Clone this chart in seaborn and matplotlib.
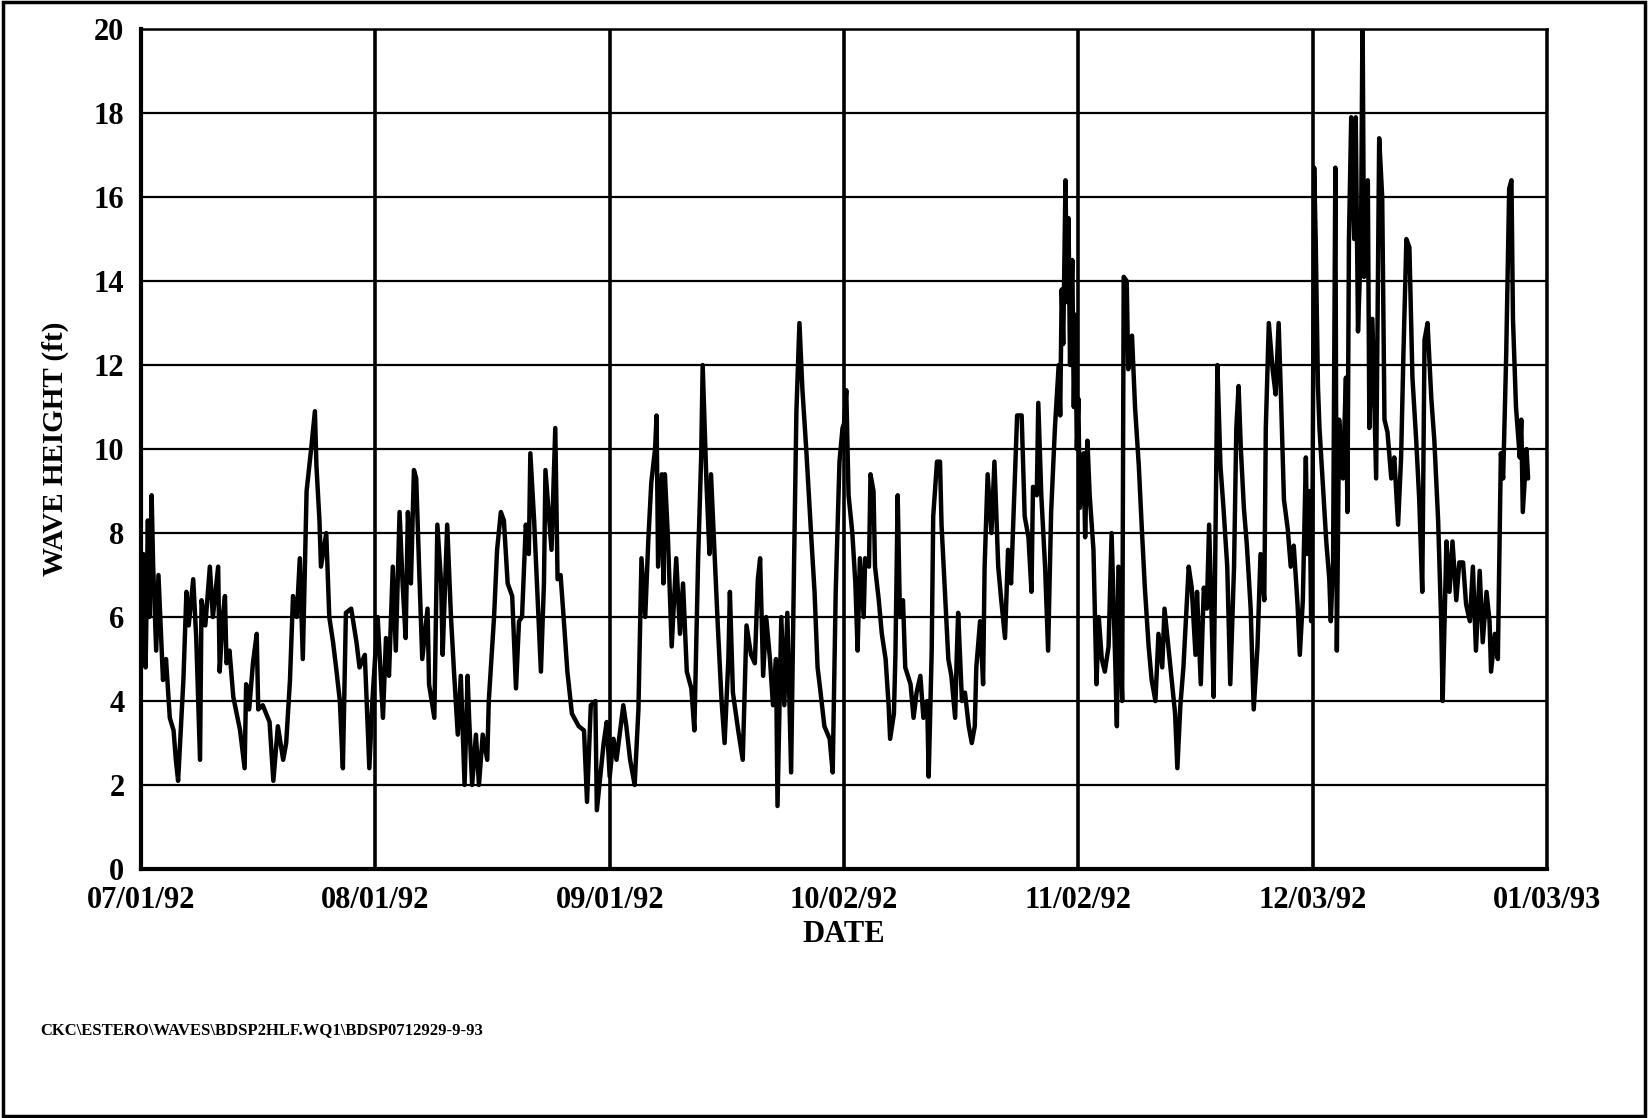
import matplotlib
matplotlib.use('Agg')
import matplotlib.pyplot as plt
import seaborn as sns
from matplotlib.patches import Rectangle

# days after 07/01/92 and wave height (ft)
days = [
    0.0, 0.3, 0.6, 0.9, 1.1, 1.4, 1.6, 2.0, 2.3, 2.9, 3.3, 3.8, 4.3, 4.6, 4.9, 5.3, 5.6, 6.0, 6.3, 6.9,
    7.3, 7.8, 8.0, 8.5, 9.1, 9.5, 10.2, 10.4, 10.8, 11.1, 11.3, 11.7, 12.2, 13.1, 13.7, 13.9, 14.3, 14.8,
    15.3, 15.5, 16.1, 17.0, 17.5, 18.1, 18.8, 19.2, 19.7, 20.1, 20.6, 21.0, 21.4, 21.9, 22.5, 23.0, 23.2,
    23.6, 23.8, 24.5, 24.9, 25.4, 25.8, 26.3, 26.7, 27.1, 27.8, 28.5, 28.9, 29.6, 30.2, 30.6,
    31.3, 32.0, 32.4, 32.8, 33.3, 33.7, 34.2, 34.6, 35.0, 35.3, 35.7, 36.1, 36.4, 36.8, 37.2, 37.9, 38.1,
    38.8, 39.2, 39.7, 39.9, 40.5, 41.0, 41.4, 41.9, 42.3, 42.8, 43.2, 43.4, 43.8, 44.3, 44.7, 45.2, 45.8,
    46.0, 46.7, 47.1, 47.6, 48.0, 48.5, 49.1, 49.6, 50.0, 50.4, 50.9, 51.3, 51.5, 52.0, 52.4, 52.9, 53.3,
    53.5, 54.0, 54.3, 54.8, 55.1, 55.5, 55.9, 56.4, 57.0, 57.9, 58.6, 59.0, 59.5, 60.1, 60.3,
    61.2, 61.6, 62.0, 62.5, 62.9, 63.8, 64.2, 64.7, 65.3, 65.8, 66.2, 66.7, 67.1, 67.5, 68.0, 68.2, 68.4,
    68.9, 69.1, 69.3, 69.7, 70.2, 70.8, 71.3, 71.7, 72.2, 72.8, 73.2, 73.7, 74.1, 74.3, 74.8, 75.2, 75.4,
    75.9, 76.3, 76.8, 77.2, 77.7, 77.9, 78.3, 79.0, 79.6, 80.1, 80.7, 81.2, 81.6, 81.9, 82.3, 82.7, 83.2,
    83.6, 84.0, 84.2, 84.7, 85.1, 85.5, 86.0, 86.4, 86.7, 87.1, 87.5, 88.0, 88.7, 89.1, 89.5, 89.9, 90.4,
    91.1, 91.5, 91.9, 92.4, 92.8,
    93.0, 93.3, 93.6, 94.1, 94.5, 94.8, 95.1, 95.6, 95.8, 96.3, 96.5, 96.9, 97.1, 97.6, 98.0, 98.5, 98.9,
    99.1, 99.6, 99.8, 100.1, 100.4, 100.8, 101.1, 101.8, 102.2, 102.6, 103.1, 103.5, 104.0, 104.2, 104.6,
    104.8, 105.3, 105.7, 105.9, 106.4, 106.8, 107.2, 107.7, 107.9, 108.1, 108.6, 109.0, 109.5, 109.9,
    110.3, 110.5, 111.0, 111.4, 111.6, 112.0, 112.5, 112.9, 113.4, 113.8, 114.3, 114.7, 115.1, 115.6,
    115.9, 116.5, 116.9, 117.4, 117.8, 118.0, 118.5, 118.7, 119.1, 119.6, 120.0, 120.4, 120.9,
    121.4, 121.6, 121.8, 122.0, 122.3, 122.5, 122.7, 122.9, 123.2, 123.4, 123.6, 123.8, 124.0,
    124.2, 124.7, 124.9, 125.2, 125.5, 126.0, 126.4, 126.7, 127.1, 127.5, 128.0, 128.4, 128.9, 129.1,
    129.3, 129.8, 130.0, 130.4, 130.6, 131.1, 131.5, 132.0, 132.4, 132.8, 133.3, 133.7, 134.2, 134.6,
    135.1, 135.4, 135.9, 136.4, 136.8, 137.1, 137.5, 137.9, 138.6, 139.0, 139.5, 139.7, 140.2, 140.6,
    141.0, 141.3, 141.6, 141.9, 142.4, 142.8, 143.2, 143.7, 144.1, 144.6, 144.9, 145.2, 145.5, 145.9,
    146.3, 146.8, 147.2, 147.7, 148.1, 148.6, 148.8, 149.2, 149.7, 150.1, 150.5, 150.8, 151.2, 151.7,
    152.1, 152.5, 153.0, 153.3,
    153.7, 154.1, 154.3, 154.6, 154.8, 155.0, 155.2, 155.4, 155.7, 155.9, 156.3, 156.8, 157.2, 157.4,
    157.7, 158.0, 158.2, 158.5, 159.0, 159.4, 159.6, 159.8, 160.1, 160.5, 160.7, 161.0, 161.4, 161.6,
    161.8, 162.3, 162.5, 162.9, 163.4, 163.8, 164.2, 164.5, 164.9, 165.4, 165.8, 166.3, 166.7, 167.0,
    167.4, 167.8, 168.2, 168.7, 169.1, 169.5, 169.8, 170.2, 170.7, 171.1, 171.6, 172.0, 172.2, 172.7,
    173.1, 173.5, 174.0, 174.4, 174.9, 175.3, 175.8, 176.2, 176.6, 177.1, 177.5, 178.0, 178.4, 178.6,
    179.1, 179.5, 179.9, 180.2, 180.6, 181.0, 181.3, 181.5, 181.9, 182.4, 182.6, 182.8, 183.3, 183.5,
]
heights = [
    5.0, 7.5, 4.8, 8.3, 6.0, 8.9, 7.2, 5.2, 7.0, 4.5, 5.0, 3.6, 3.3, 2.6, 2.1, 3.5, 4.5, 6.6, 5.8, 6.9,
    5.5, 2.6, 6.4, 5.8, 7.2, 6.0, 7.2, 4.7, 6.0, 6.5, 4.9, 5.2, 4.1, 3.3, 2.4, 4.4, 3.8, 4.9,
    5.6, 3.8, 3.9, 3.5, 2.1, 3.4, 2.6, 3.0, 4.5, 6.5, 6.0, 7.4, 5.0, 9.0, 10.0, 10.9, 9.6,
    8.3, 7.2, 8.0, 6.0, 5.4, 4.8, 4.0, 2.4, 6.1, 6.2, 5.4, 4.8, 5.1, 2.4, 4.0,
    6.0, 3.6, 5.5, 4.6, 7.2, 5.2, 8.5, 6.8, 5.5, 8.5, 6.8, 9.5, 9.3, 7.1, 5.0, 6.2, 4.4,
    3.6, 8.2, 6.8, 5.1, 8.2, 6.0, 4.7, 3.2, 4.6, 2.0, 4.6, 3.6, 2.0, 3.2, 2.0, 3.2, 2.6,
    4.0, 6.0, 7.6, 8.5, 8.3, 6.8, 6.5, 4.3, 5.9, 6.0, 8.2, 7.5, 9.9, 8.3, 6.7, 4.7, 6.8,
    9.5, 8.3, 7.6, 10.5, 6.9, 7.0, 6.0, 4.7, 3.7, 3.4, 3.3, 1.6, 3.9, 4.0, 1.4,
    3.0, 3.5, 2.2, 3.1, 2.6, 3.9, 3.4, 2.6, 2.0, 3.8, 7.4, 6.0, 7.8, 9.2, 10.0, 10.8, 7.2,
    9.4, 6.8, 9.4, 7.9, 5.3, 7.4, 5.6, 6.8, 4.7, 4.3, 3.3, 7.4, 9.8, 12.0, 9.2, 7.5, 9.4,
    7.4, 5.8, 4.0, 3.0, 5.0, 6.6, 4.2, 3.3, 2.6, 5.8, 5.1, 4.9, 6.9, 7.4, 4.6, 6.0, 5.0,
    3.9, 5.0, 1.5, 6.0, 3.9, 6.1, 2.3, 7.4, 10.9, 13.0, 11.4, 10.0, 7.8, 6.6, 4.8, 4.2, 3.4,
    3.1, 2.3, 6.6, 9.7, 10.5,
    10.6, 11.4, 8.9, 8.0, 6.8, 5.2, 7.4, 6.0, 7.4, 7.2, 9.4, 9.0, 7.2, 6.4, 5.6, 5.0, 3.9,
    3.1, 3.7, 5.1, 8.9, 6.0, 6.4, 4.8, 4.4, 3.6, 4.2, 4.6, 3.6, 4.0, 2.2, 5.2,
    8.4, 9.7, 9.7, 8.2, 6.4, 5.0, 4.6, 3.6, 5.0, 6.1, 4.0, 4.2, 3.4, 3.0,
    3.4, 4.8, 5.9, 4.4, 7.2, 9.4, 8.0, 9.7, 7.2, 6.4, 5.5, 7.6, 6.8, 9.3,
    10.8, 10.8, 8.4, 7.9, 6.6, 9.1, 8.9, 11.1, 8.9, 7.2, 5.2, 8.5, 10.5,
    12.0, 10.8, 13.8, 12.5, 16.4, 13.5, 15.5, 12.0, 14.5, 11.0, 13.2, 10.0, 11.2,
    8.6, 9.9, 7.9, 10.2, 8.9, 7.6, 4.4, 6.0, 5.0, 4.7, 5.3, 8.0, 4.8, 3.4,
    7.2, 4.0, 14.1, 14.0, 11.9, 12.7, 11.0, 9.6, 8.1, 6.7, 5.3, 4.5, 4.0, 5.6,
    4.8, 6.2, 5.3, 4.4, 3.7, 2.4, 3.9, 4.8, 7.2, 6.7, 5.1, 6.6, 4.4, 6.7,
    6.2, 8.2, 6.2, 4.1, 12.0, 9.6, 8.6, 7.2, 4.4, 7.2, 10.5, 11.5, 10.0, 8.6,
    7.7, 6.2, 3.8, 5.3, 7.5, 6.4, 10.5, 13.0, 11.9, 11.3, 13.0, 11.3, 8.8, 8.1,
    7.2, 7.7, 6.3, 5.1,
    6.4, 9.8, 7.5, 9.0, 5.9, 9.3, 16.7, 15.0, 11.5, 10.5, 9.3, 7.8, 6.9, 5.9,
    7.3, 16.7, 5.2, 10.7, 9.3, 11.7, 8.5, 15.0, 17.9, 15.0, 17.9, 12.8, 15.0, 20.5,
    14.1, 16.4, 10.5, 13.1, 9.3, 17.4, 16.0, 10.7, 10.4, 9.3, 9.8, 8.2, 9.8, 12.2,
    15.0, 14.8, 11.7, 10.2, 8.8, 6.6, 12.6, 13.0, 11.2, 10.2, 8.3, 5.9, 4.0, 7.8,
    6.6, 7.8, 6.4, 7.3, 7.3, 6.3, 5.9, 7.2, 5.2, 7.1, 5.4, 6.6, 5.9, 4.7,
    5.6, 5.0, 9.9, 9.3, 12.2, 16.2, 16.4, 13.1, 11.0, 9.8, 10.7, 8.5, 10.0, 9.3,
]

tick_days = [0, 31, 62, 93, 124, 155, 186]
tick_labels = ['07/01/92', '08/01/92', '09/01/92', '10/02/92', '11/02/92', '12/03/92', '01/03/93']
y_ticks = list(range(0, 21, 2))
footer = 'CKC\\ESTERO\\WAVES\\BDSP2HLF.WQ1\\BDSP0712929-9-93'

sns.set_style('white')
plt.rcParams['font.family'] = ['Liberation Serif', 'DejaVu Serif']
plt.rcParams['font.weight'] = 'bold'

fig = plt.figure(figsize=(16.48, 11.18), dpi=100)
ax = fig.add_axes([0.0856, 0.2227, 0.8531, 0.7513])

sns.lineplot(x=days, y=heights, ax=ax, color='black', linewidth=3.2, sort=False)

ax.set_xlim(0, 186)
ax.set_ylim(0, 20)
ax.set_xticks(tick_days)
ax.set_xticklabels(tick_labels)
ax.set_yticks(y_ticks)
ax.set_axisbelow(True)
ax.grid(True, axis='y', color='black', linewidth=1.6)
ax.grid(True, axis='x', color='black', linewidth=2.6)

for side in ['left', 'bottom']:
    ax.spines[side].set_linewidth(3)
for side in ['top', 'right']:
    ax.spines[side].set_linewidth(1.8)
for sp in ax.spines.values():
    sp.set_color('black')

ax.tick_params(axis='both', direction='out', length=9, width=2.2, colors='black',
               labelsize=22, pad=3)
for lab in ax.get_xticklabels() + ax.get_yticklabels():
    lab.set_fontweight('bold')

ax.set_xlabel('DATE', fontsize=22, fontweight='bold', color='black', labelpad=4)
ax.set_ylabel('WAVE HEIGHT (ft)', fontsize=21, fontweight='bold', color='black', labelpad=18)

fig.text(40 / 1648, 1 - 1030 / 1118, footer, fontsize=12, fontweight='bold',
         color='black', va='center')
fig.patches.append(Rectangle((0.002, 0.002), 0.996, 0.996, transform=fig.transFigure,
                             fill=False, edgecolor='black', linewidth=2.5))

fig.savefig('out.png', dpi=100)
